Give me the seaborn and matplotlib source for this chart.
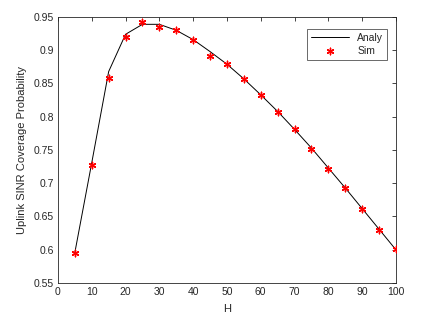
import matplotlib
matplotlib.use("Agg")
import matplotlib.pyplot as plt
import seaborn as sns
import pandas as pd

H = [5, 10, 15, 20, 25, 30, 35, 40, 45, 50, 55, 60, 65, 70, 75, 80, 85, 90, 95, 100]
analy = [0.596, 0.731, 0.868, 0.924, 0.939, 0.939, 0.930, 0.916, 0.898, 0.879,
         0.857, 0.833, 0.808, 0.781, 0.753, 0.723, 0.693, 0.662, 0.631, 0.600]
sim = [0.595, 0.727, 0.859, 0.920, 0.942, 0.935, 0.931, 0.915, 0.892, 0.879,
       0.857, 0.832, 0.807, 0.781, 0.752, 0.722, 0.693, 0.661, 0.630, 0.601]
xticks = [0, 10, 20, 30, 40, 50, 60, 70, 80, 90, 100]
yticks = [0.55, 0.6, 0.65, 0.7, 0.75, 0.8, 0.85, 0.9, 0.95]
ytick_labels = ["0.55", "0.6", "0.65", "0.7", "0.75", "0.8", "0.85", "0.9", "0.95"]

df = pd.DataFrame({"H": H, "Analy": analy, "Sim": sim})

sns.set_style("white")
plt.rcParams['font.family'] = ['Liberation Sans', 'DejaVu Sans']

fig = plt.figure(figsize=(4.36, 3.27), dpi=100)
ax = fig.add_axes([0.133, 0.1346, 0.775, 0.8134])

sns.lineplot(data=df, x="H", y="Analy", ax=ax, color="black", linewidth=0.7, label="Analy")
sns.scatterplot(data=df, x="H", y="Sim", ax=ax, color="red", marker=(6, 2, 0), s=22,
                linewidth=1.0, edgecolor="red", label="Sim", zorder=3)

ax.set_xlim(0, 100)
ax.set_ylim(0.55, 0.95)
ax.set_xticks(xticks)
ax.set_xticklabels([str(t) for t in xticks])
ax.set_yticks(yticks)
ax.set_yticklabels(ytick_labels)
ax.set_xlabel("H", fontsize=8, color="#262626", labelpad=5)
ax.set_ylabel("Uplink SINR Coverage Probability", fontsize=8, color="#262626", labelpad=5)
ax.tick_params(direction="in", length=3, width=0.6, colors="#262626", labelsize=7.5,
               top=True, right=True, pad=3)
for s in ax.spines.values():
    s.set_linewidth(0.6)
    s.set_color("#262626")

leg = ax.legend(loc="upper right", fontsize=7.5, frameon=True, fancybox=False,
                edgecolor="#262626", borderpad=0.4, handlelength=3.6, labelspacing=0.3,
                bbox_to_anchor=(0.99, 0.975))
leg.get_frame().set_linewidth(0.6)

fig.savefig("out.png", dpi=100, facecolor="white")
